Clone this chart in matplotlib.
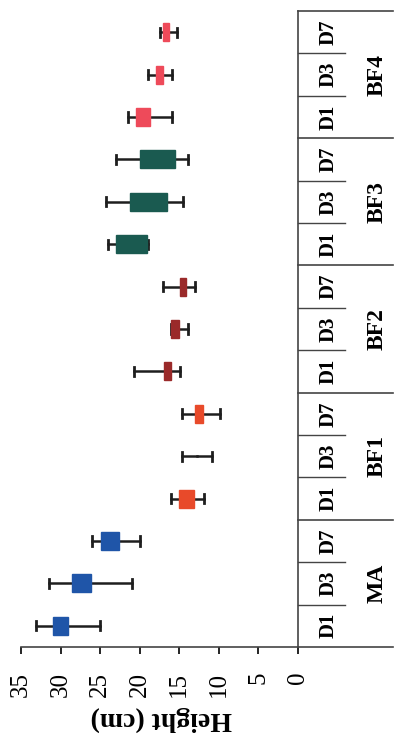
import numpy as np
import matplotlib
matplotlib.use('Agg')
import matplotlib.pyplot as plt
import matplotlib.transforms as mtransforms

# categories, bottom (MA D1) to top (BF4 D7)
groups = ['MA', 'BF1', 'BF2', 'BF3', 'BF4']
days = ['D1', 'D3', 'D7']
group_colors = ['#1f55a8', '#e84a2a', '#9a2a2a', '#1a5a50', '#ee4a5a']

# box stats (cm)
whis_lo = [25.0, 21.0, 20.0, 11.9, 10.9, 9.9, 14.9, 13.9, 13.0, 18.9, 14.5, 13.9, 15.9, 15.9, 15.3]
q1 = [29.0, 26.1, 22.6, 13.2, 12.8, 12.0, 16.1, 15.0, 14.1, 19.1, 16.5, 15.5, 18.7, 17.0, 16.3]
q3 = [31.0, 28.5, 24.9, 15.0, 12.8, 13.0, 16.9, 16.0, 14.9, 23.0, 21.2, 20.0, 20.5, 18.0, 17.0]
whis_hi = [33.1, 31.5, 26.0, 16.1, 14.6, 14.6, 20.7, 16.1, 17.0, 24.0, 24.3, 23.0, 21.5, 19.0, 17.5]

plt.rcParams['font.family'] = ['Liberation Serif', 'DejaVu Serif']
plt.rcParams['mathtext.fontset'] = 'stix'
serif = 'Liberation Serif'

fig = plt.figure(figsize=(4.08, 7.46), dpi=100)
ax = fig.add_axes([21/408, 1 - 647/746, (298 - 21)/408, (647 - 11)/746])

stats = []
for i in range(len(q1)):
    stats.append(dict(whislo=whis_lo[i], q1=q1[i], med=(q1[i] + q3[i]) / 2,
                      q3=q3[i], whishi=whis_hi[i]))

pos = np.arange(len(stats))
bp = ax.bxp(stats, positions=pos, orientation='horizontal', widths=0.42,
            patch_artist=True, showfliers=False,
            whiskerprops=dict(color='#1e1e1e', lw=1.8),
            capprops=dict(color='#1e1e1e', lw=2.0),
            medianprops=dict(lw=0), capwidths=0.22)
for i, box in enumerate(bp['boxes']):
    c = group_colors[i // 3]
    if q3[i] - q1[i] < 0.01:
        box.set_visible(False)
    box.set_facecolor(c)
    box.set_edgecolor(c)
    box.set_zorder(3)

ax.set_xlim(35, 0)
ax.set_ylim(-0.5, len(stats) - 0.5)
ax.set_xticks(np.arange(0, 36, 5))
ax.set_xticklabels([str(v) for v in range(0, 36, 5)], rotation=90,
                   fontsize=18, fontfamily=serif)
ax.tick_params(axis='x', direction='out', length=5, width=1.2, pad=13)
ax.set_yticks([])
for s in ['top', 'left']:
    ax.spines[s].set_visible(False)
for s in ['bottom', 'right']:
    ax.spines[s].set_linewidth(1.2)
    ax.spines[s].set_color('#444444')

# category table on the right
tr = mtransforms.blended_transform_factory(ax.transAxes, ax.transData)
x_full = 1 + (393 - 298) / (298 - 21)
x_inner = 1 + (345 - 298) / (298 - 21)
for g in range(len(groups) + 1):
    y = g * 3 - 0.5
    ax.plot([1, x_full], [y, y], transform=tr, clip_on=False, color='#444444', lw=1.2)
for g in range(len(groups)):
    for k in (1, 2):
        y = g * 3 + k - 0.5
        ax.plot([1, x_inner], [y, y], transform=tr, clip_on=False, color='#444444', lw=1.0)
    for k, d in enumerate(days):
        ax.text(1 + (329 - 298) / 277, g * 3 + k, d, transform=tr, rotation=90,
                ha='center', va='center', fontsize=15, fontweight='bold', fontfamily=serif)
    ax.text(1 + (377 - 298) / 277, g * 3 + 1, groups[g], transform=tr, rotation=90,
            ha='center', va='center', fontsize=17, fontweight='bold', fontfamily=serif)

fig.text(161/408, 1 - 719/746, 'Height (cm)', rotation=180, ha='center', va='center',
         fontsize=20, fontweight='bold', fontfamily=serif)

fig.savefig('out.png', dpi=100)
